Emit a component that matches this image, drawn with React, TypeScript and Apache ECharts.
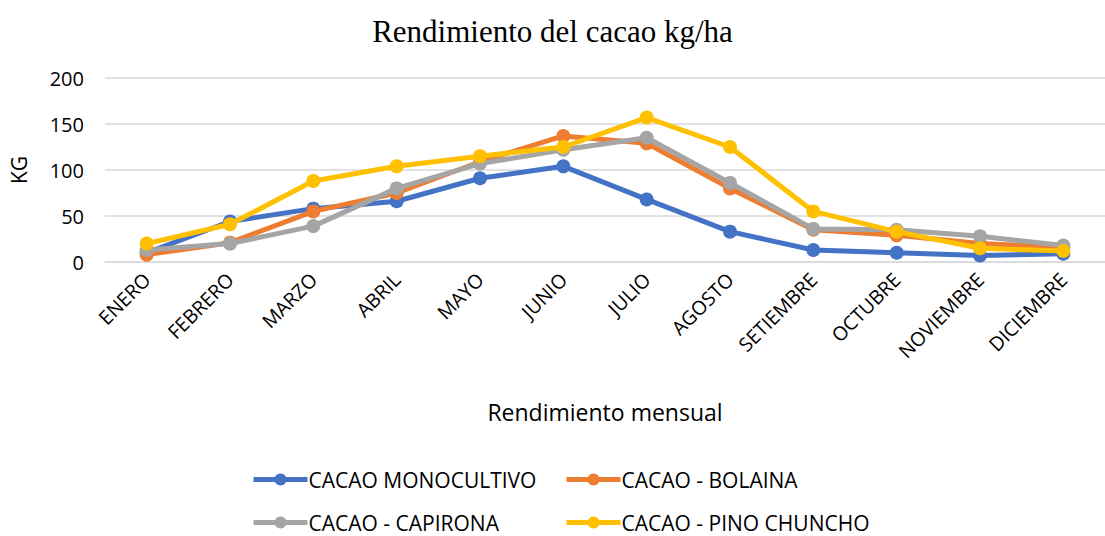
import React, { useEffect, useRef } from "react";
import * as echarts from "echarts";

const months = ["ENERO", "FEBRERO", "MARZO", "ABRIL", "MAYO", "JUNIO", "JULIO", "AGOSTO", "SETIEMBRE", "OCTUBRE", "NOVIEMBRE", "DICIEMBRE"];
const seriesNames = ["CACAO MONOCULTIVO", "CACAO - BOLAINA", "CACAO - CAPIRONA", "CACAO - PINO CHUNCHO"];
const monocultivo = [10, 44, 58, 66, 91, 104, 68, 33, 13, 10, 7, 9];
const bolaina = [8, 21, 55, 75, 109, 137, 129, 80, 35, 29, 20, 16];
const capirona = [13, 20, 39, 80, 107, 122, 135, 86, 36, 35, 28, 18];
const pinoChuncho = [20, 41, 88, 104, 115, 125, 157, 125, 55, 33, 15, 12];
const yTicks = [0, 50, 100, 150, 200];
const colors = ["#4472C4", "#ED7D31", "#A5A5A5", "#FFC000"];

const sans = "'Open Sans', 'Noto Sans', sans-serif";

export default function App() {
  const ref = useRef<HTMLDivElement>(null);
  useEffect(() => {
    if (!ref.current) return;
    const chart = echarts.init(ref.current, undefined, { renderer: "svg" });
    const values = [monocultivo, bolaina, capirona, pinoChuncho];
    const legendPos = [
      { left: 251, top: 469 },
      { left: 564, top: 469 },
      { left: 251, top: 512 },
      { left: 564, top: 512 },
    ];
    chart.setOption({
      animation: false,
      backgroundColor: "#ffffff",
      title: {
        text: "Rendimiento del cacao kg/ha",
        left: "center",
        top: 11,
        textStyle: { fontFamily: "'Liberation Serif', 'Times New Roman', serif", fontSize: 31, fontWeight: "normal", color: "#000" },
      },
      legend: seriesNames.map((n, i) => ({
        data: [n],
        left: legendPos[i].left,
        top: legendPos[i].top,
        itemWidth: 54,
        itemHeight: 15,
        itemGap: 0,
        padding: 0,
        lineStyle: { width: 5 },
        textStyle: { fontFamily: sans, fontSize: 21, color: "#000", padding: [0, 0, 0, -4] },
      })),
      grid: { left: 103, right: -4, top: 78, bottom: 274, containLabel: false },
      xAxis: {
        type: "category",
        data: months,
        boundaryGap: true,
        axisLine: { show: true, lineStyle: { color: "#D9D9D9", width: 1.5 } },
        axisTick: { show: false },
        axisLabel: { rotate: 45, fontFamily: sans, fontSize: 19.5, color: "#000", margin: 14, interval: 0 },
        name: "Rendimiento mensual",
        nameLocation: "middle",
        nameGap: 138,
        nameTextStyle: { fontFamily: sans, fontSize: 23, color: "#000" },
      },
      yAxis: {
        type: "value",
        min: yTicks[0],
        max: yTicks[yTicks.length - 1],
        interval: 50,
        axisLine: { show: false },
        axisTick: { show: false },
        splitLine: { lineStyle: { color: "#D9D9D9", width: 1.5 } },
        axisLabel: { fontFamily: sans, fontSize: 20, color: "#000", margin: 21 },
        name: "KG",
        nameLocation: "middle",
        nameGap: 76,
        nameRotate: 90,
        nameTextStyle: { fontFamily: sans, fontSize: 21, color: "#000" },
      },
      series: seriesNames.map((n, i) => ({
        name: n,
        type: "line",
        data: values[i],
        symbol: "circle",
        symbolSize: 14,
        lineStyle: { width: 5, color: colors[i] },
        itemStyle: { color: colors[i] },
        z: 2 + i,
      })),
    });
    return () => chart.dispose();
  }, []);
  return <div ref={ref} style={{ width: 1105, height: 536, position: "absolute", left: 0, top: 0 }} />;
}
